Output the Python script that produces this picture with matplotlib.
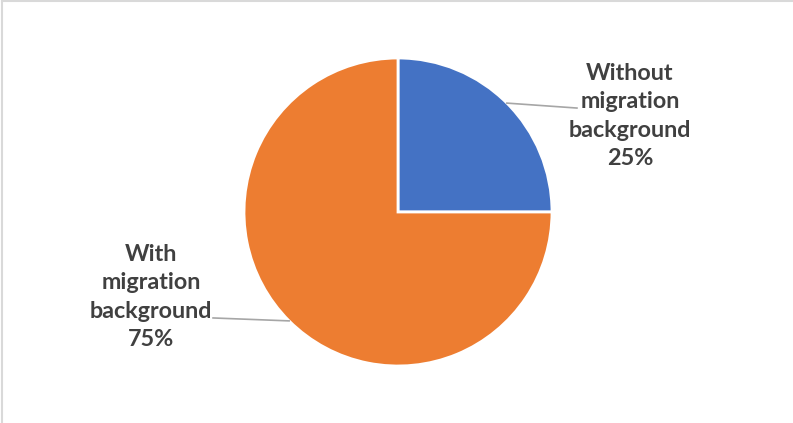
import matplotlib.pyplot as plt
import numpy as np
from matplotlib.lines import Line2D

labels = ['Without\nmigration\nbackground', 'With\nmigration\nbackground']
shares = [25, 75]
colors = ['#4472C4', '#ED7D31']

W, H = 793, 423
fig = plt.figure(figsize=(W / 100, H / 100), dpi=100)

# pie centre and radius in pixels
cx, cy, r = 398, 212, 154
ax = fig.add_axes([(cx - r) / W, (H - cy - r) / H, 2 * r / W, 2 * r / H])
wedges, _ = ax.pie(shares, colors=colors, startangle=90, counterclock=False,
                   radius=1, wedgeprops=dict(edgecolor='white', linewidth=2))
ax.set_xlim(-1, 1)
ax.set_ylim(-1, 1)
ax.set_aspect('auto')
ax.axis('off')

# label positions and leader line ends, in pie units
label_pos = [(1.506, 0.623), (-1.604, -0.552)]
leader_end = [(1.162, 0.675), (-1.201, -0.688)]

for w, lab, val, (tx, ty), (lx, ly) in zip(wedges, labels, shares, label_pos, leader_end):
    mid = np.deg2rad((w.theta1 + w.theta2) / 2)
    x0, y0 = np.cos(mid), np.sin(mid)
    ax.plot([x0, lx], [y0, ly], color='#A6A6A6', lw=1.2, clip_on=False)
    ax.text(tx, ty, f'{lab}\n{val}%', ha='center', va='center',
            fontsize=16.8, fontweight='bold', family='Lato', color='#404040',
            linespacing=1.42, clip_on=False)

# chart area frame
fig.add_artist(Line2D([1.5 / W, 1], [1 - 1.5 / H, 1 - 1.5 / H], color='#D9D9D9', lw=1.5))
fig.add_artist(Line2D([1.5 / W, 1.5 / W], [0, 1 - 1.5 / H], color='#D9D9D9', lw=1.5))

fig.savefig('out.png', dpi=100)
